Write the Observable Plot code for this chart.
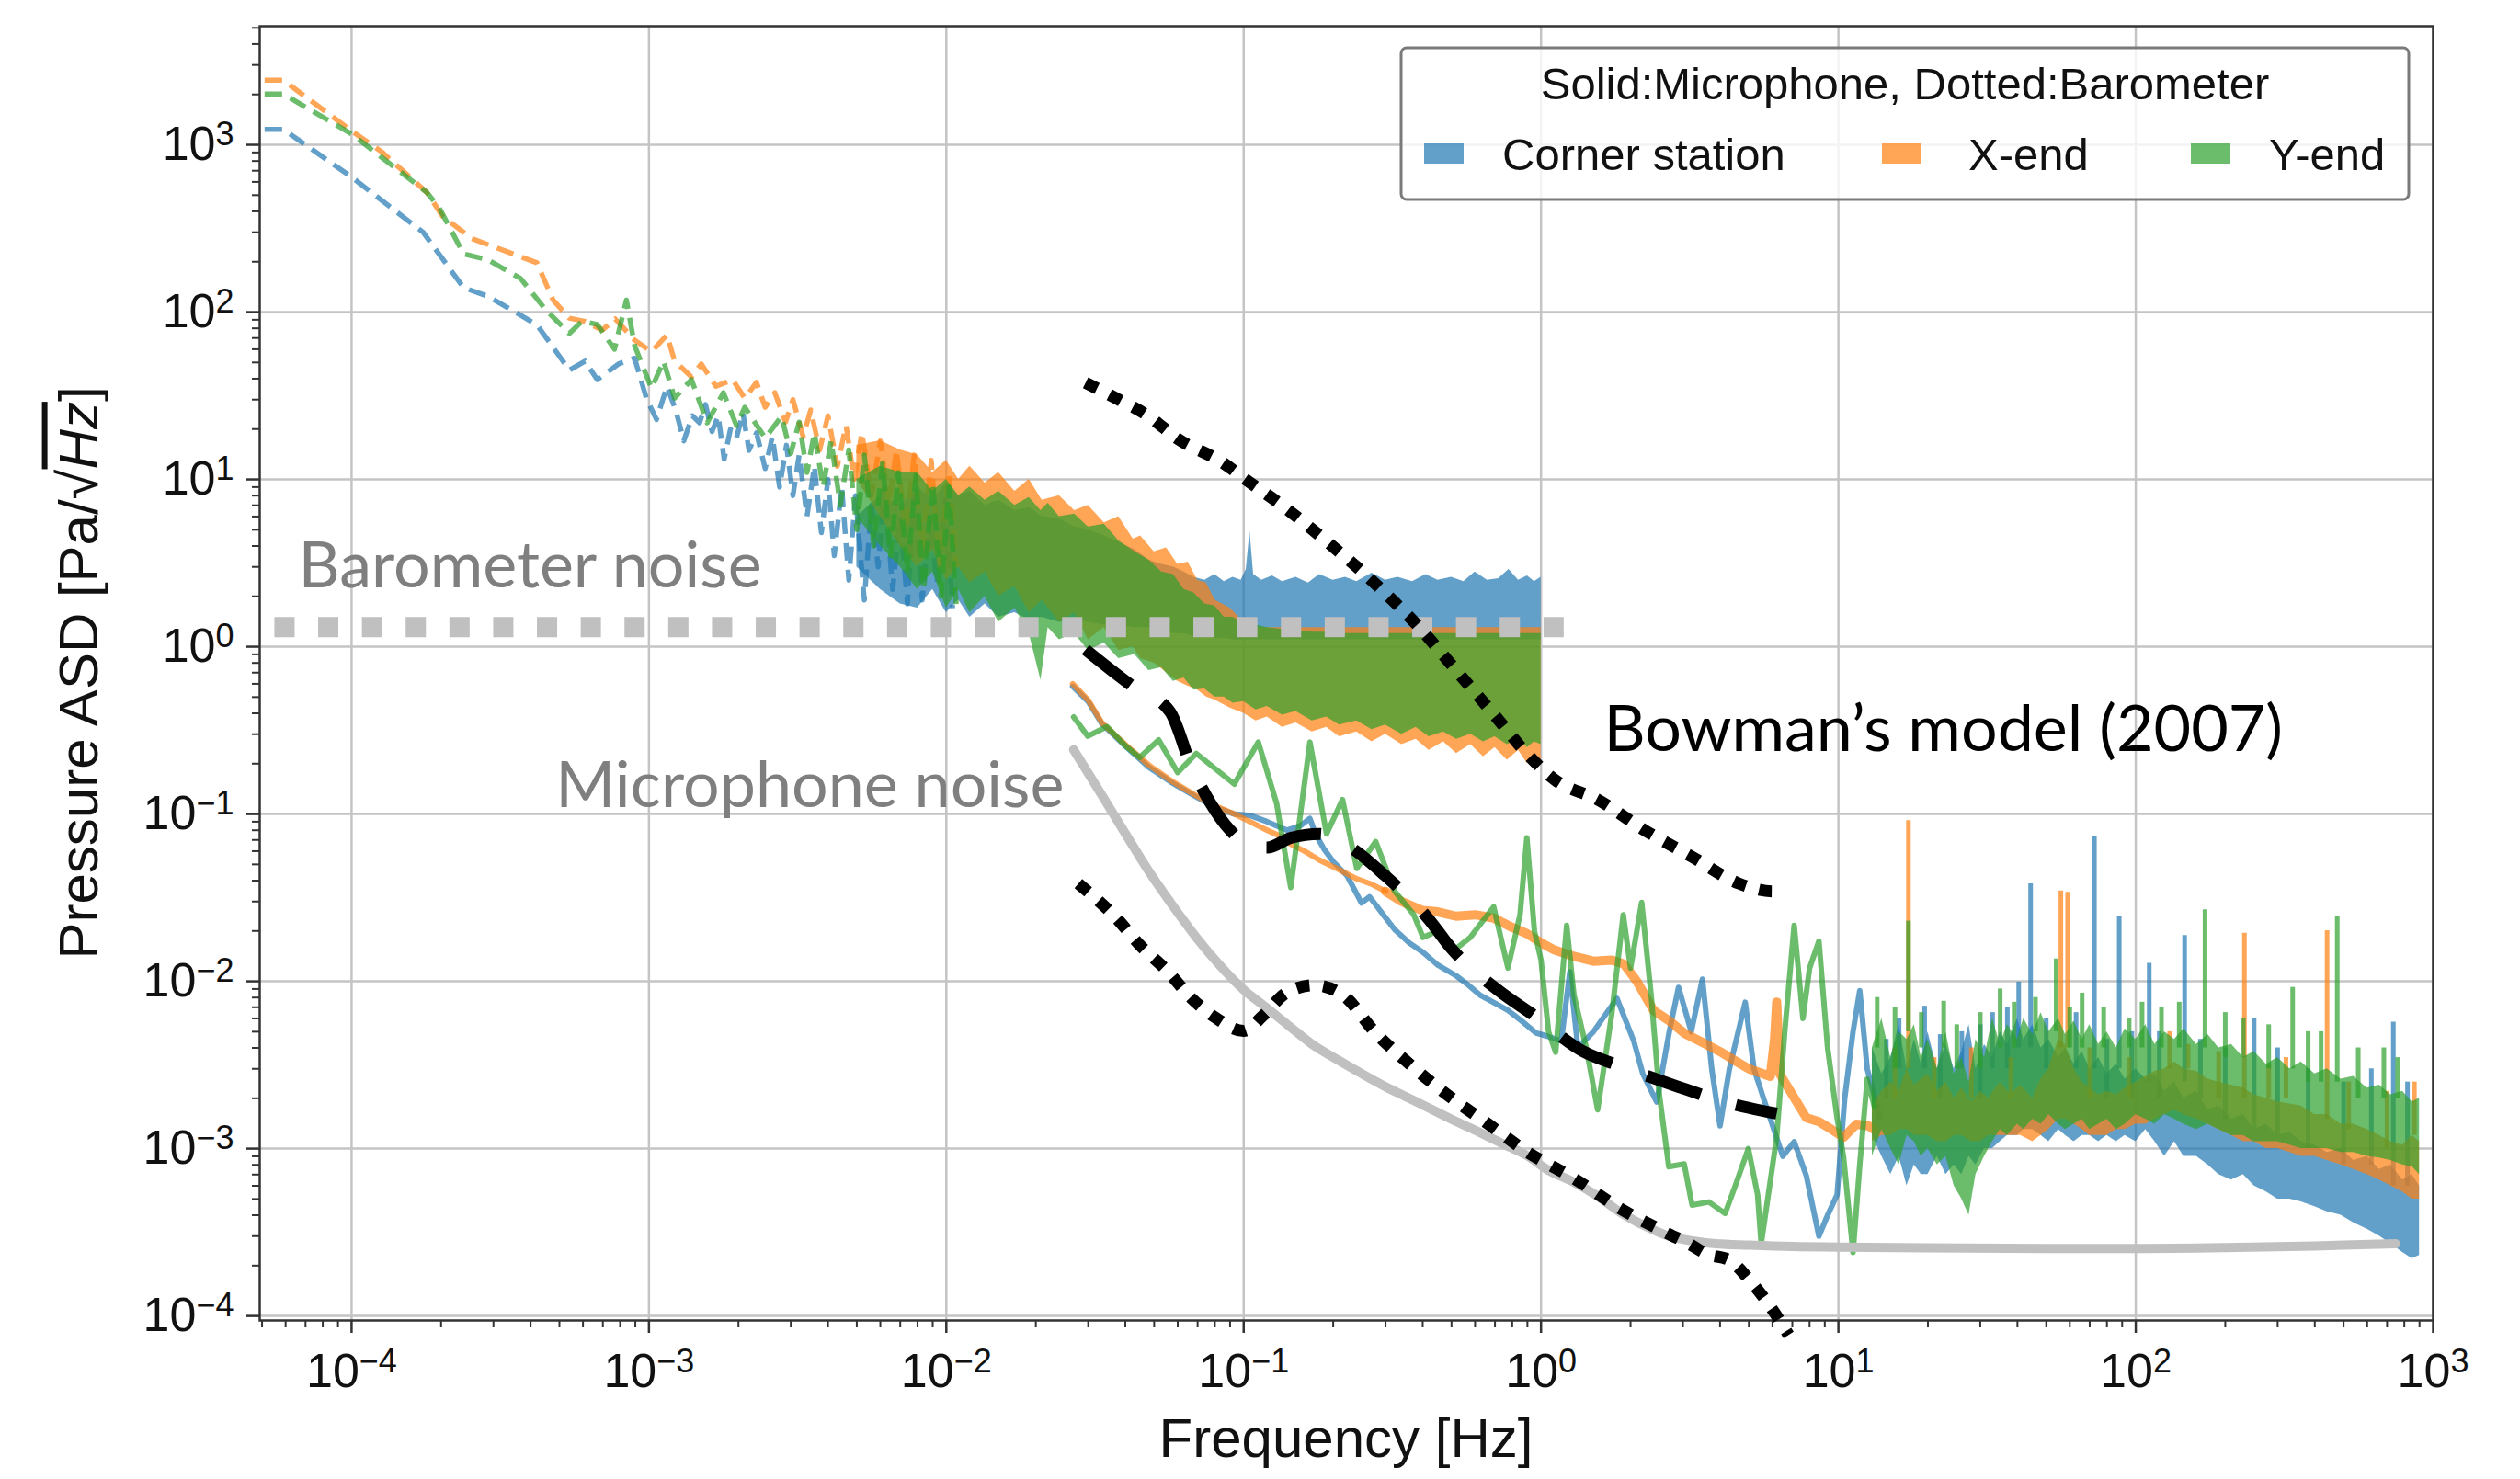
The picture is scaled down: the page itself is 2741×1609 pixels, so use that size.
<!DOCTYPE html>
<html><head><meta charset="utf-8">
<script src="https://cdn.jsdelivr.net/npm/d3@7"></script>
<script src="https://cdn.jsdelivr.net/npm/@observablehq/plot@0.6"></script>
<style>
html,body{margin:0;padding:0;background:#fff;}
#chart{position:relative;width:2741px;height:1609px;}
</style></head><body><div id="chart"></div>
<script>
// ---------- tick values ----------
const xMajor = [1e-4, 1e-3, 1e-2, 1e-1, 1, 10, 100, 1000];
const yMajor = [1e-4, 1e-3, 1e-2, 1e-1, 1, 10, 100, 1000];
const seriesNames = ["Corner station", "X-end", "Y-end"];
const legendTitle = "Solid:Microphone, Dotted:Barometer";

// ---------- barometer (dashed) [f, ASD] ----------
const baroCorner = [[5.1e-5,1235],[5.9e-5,1235],[1.0e-4,641],[1.74e-4,300],[2.38e-4,140],[2.88e-4,124],[4.2e-4,84],[5.4e-4,45],[6.1e-4,51],[6.7e-4,39.5],[7.9e-4,49],[8.95e-4,53],[9.8e-4,30.6],[1.06e-3,22.8],[1.15e-3,36],[1.23e-3,26],[1.31e-3,17],[1.4e-3,24],[1.48e-3,21.8],[1.55e-3,28],[1.63e-3,19.3],[1.71e-3,24],[1.79e-3,13.2],[1.88e-3,20],[1.97e-3,17.7],[2.07e-3,25],[2.17e-3,14.9],[2.3e-3,19],[2.46e-3,11.6],[2.6e-3,18],[2.75e-3,9],[2.9e-3,16],[3.05e-3,8],[3.2e-3,14],[3.4e-3,6],[3.6e-3,12],[3.8e-3,4.8],[4.0e-3,10],[4.2e-3,3.5],[4.45e-3,9],[4.7e-3,2.5],[4.95e-3,8],[5.3e-3,1.9],[5.6e-3,7],[5.9e-3,3],[6.2e-3,9],[6.6e-3,2.2],[7.0e-3,6],[7.4e-3,1.8],[7.8e-3,8],[8.3e-3,1.9],[8.8e-3,6],[9.3e-3,2.4],[9.9e-3,7.5],[1.05e-2,1.7]];
const baroXend = [[5.1e-5,2430],[5.9e-5,2430],[1.0e-4,1210],[1.27e-4,900],[1.79e-4,520],[2.03e-4,371],[2.54e-4,275],[3.26e-4,233],[4.2e-4,197],[4.76e-4,118],[5.4e-4,92],[6.1e-4,88],[6.96e-4,78],[7.7e-4,91],[8.95e-4,68],[1.02e-3,58],[1.15e-3,73],[1.22e-3,51],[1.39e-3,41],[1.5e-3,49],[1.68e-3,36],[1.91e-3,39.5],[2.1e-3,30.6],[2.3e-3,38],[2.46e-3,27],[2.65e-3,33],[2.88e-3,22],[3.05e-3,30],[3.3e-3,18],[3.5e-3,26],[3.75e-3,15],[4.0e-3,24],[4.3e-3,12],[4.6e-3,21],[4.9e-3,10],[5.2e-3,19],[5.6e-3,8],[6.0e-3,17],[6.4e-3,7],[6.8e-3,15],[7.3e-3,5],[7.8e-3,14],[8.3e-3,4],[8.9e-3,13],[9.5e-3,3],[1.02e-2,11],[1.08e-2,3]];
const baroYend = [[5.1e-5,2010],[5.9e-5,2010],[1.0e-4,1160],[1.79e-4,520],[1.97e-4,421],[2.38e-4,223],[2.88e-4,205],[3.7e-4,159],[4.48e-4,104],[5.4e-4,74.5],[5.95e-4,88],[6.7e-4,84.5],[7.66e-4,60],[8.4e-4,118],[8.95e-4,63],[1.02e-3,35],[1.12e-3,51],[1.22e-3,30.6],[1.39e-3,39.5],[1.57e-3,21.8],[1.78e-3,33],[1.97e-3,21],[2.1e-3,27],[2.46e-3,17.7],[2.79e-3,23.8],[3.0e-3,14.3],[3.2e-3,22],[3.4e-3,11],[3.6e-3,19],[3.85e-3,9],[4.1e-3,17],[4.4e-3,7],[4.7e-3,15],[5.0e-3,5],[5.3e-3,14],[5.7e-3,4],[6.1e-3,12.5],[6.5e-3,3.5],[6.9e-3,11],[7.4e-3,2.8],[7.9e-3,10.5],[8.4e-3,2.2],[9.0e-3,9.5],[9.6e-3,2],[1.02e-2,9],[1.08e-2,1.8]];

// dense barometer region as envelopes [f, low, high]
const baroCornerBand = [[5e-3,3,6],[6e-3,2.2,8],[7e-3,1.8,7],[8e-3,1.7,9],[9e-3,2.2,7.5],[0.01,1.6,9.5],[0.011,1.9,8],[0.012,1.5,8.5],[0.0135,1.8,7],[0.015,1.5,7.5],[0.017,1.6,6.5],[0.019,1.45,6.8],[0.021,1.5,6],[0.024,1.4,5.8],[0.027,1.45,5.2],[0.03,1.4,5],[0.034,1.35,4.6],[0.038,1.35,4.2],[0.043,1.3,3.8],[0.048,1.3,3.3],[0.053,1.25,3.1],[0.058,1.2,3.0],[0.063,1.2,2.8],[0.068,1.15,2.6],[0.074,1.15,2.5],[0.08,1.12,2.7],[0.086,1.12,2.45],[0.092,1.1,2.6],[0.098,1.1,2.5],[0.102,1.1,2.9],[0.105,1.1,4.9],[0.108,1.1,2.7],[0.115,1.1,2.5],[0.125,1.1,2.65],[0.135,1.1,2.45],[0.15,1.1,2.6],[0.165,1.1,2.4],[0.18,1.1,2.7],[0.2,1.1,2.5],[0.22,1.1,2.6],[0.24,1.1,2.45],[0.27,1.1,2.75],[0.3,1.1,2.5],[0.33,1.1,2.6],[0.37,1.1,2.45],[0.41,1.1,2.7],[0.45,1.1,2.5],[0.5,1.1,2.6],[0.55,1.1,2.45],[0.6,1.1,2.8],[0.66,1.1,2.5],[0.72,1.1,2.55],[0.78,1.1,2.9],[0.84,1.1,2.5],[0.9,1.1,2.65],[0.95,1.1,2.45],[1.0,1.1,2.6]];
const baroXendBand = [[5e-3,10,16],[6e-3,6,17],[7e-3,4,15],[8e-3,3,14],[9e-3,3.8,11],[0.01,2.5,13],[0.011,3,10],[0.012,2.4,12],[0.0135,2.8,9.5],[0.015,2,11],[0.017,2.3,8.5],[0.019,1.6,10],[0.021,1.9,7.5],[0.024,1.4,8],[0.027,1.6,6.5],[0.03,1.1,7],[0.034,1.3,5.5],[0.038,0.95,6],[0.0425,1.0,4.4],[0.045,0.85,4.6],[0.05,0.8,3.7],[0.055,0.7,3.9],[0.06,0.62,3.1],[0.065,0.58,3.2],[0.07,0.55,2.5],[0.075,0.5,2.4],[0.08,0.48,1.9],[0.09,0.43,1.7],[0.1,0.4,1.4],[0.11,0.36,1.3],[0.12,0.38,1.3],[0.135,0.33,1.3],[0.15,0.35,1.3],[0.17,0.31,1.3],[0.19,0.33,1.3],[0.21,0.29,1.3],[0.24,0.31,1.3],[0.27,0.27,1.3],[0.3,0.3,1.3],[0.34,0.26,1.3],[0.38,0.28,1.3],[0.42,0.24,1.3],[0.47,0.27,1.3],[0.52,0.23,1.3],[0.58,0.26,1.3],[0.64,0.22,1.3],[0.7,0.25,1.3],[0.77,0.21,1.3],[0.84,0.24,1.3],[0.9,0.2,1.3],[0.95,0.23,1.3],[1.0,0.21,1.3]];
const baroYendBand = [[5e-3,6,10],[6e-3,4,12],[7e-3,3,11],[8e-3,2.2,11],[9e-3,2.8,8.5],[0.01,1.7,10],[0.011,2.2,8],[0.012,1.6,9],[0.0135,2.0,7.5],[0.015,1.4,8.5],[0.017,1.7,7],[0.019,1.2,7.8],[0.0208,0.63,6.5],[0.022,1.3,7.2],[0.024,1.1,6],[0.027,1.2,6.2],[0.03,0.95,5.2],[0.034,1.05,5.4],[0.038,0.85,4.3],[0.043,0.9,3.7],[0.048,0.72,3.3],[0.053,0.75,2.8],[0.058,0.62,2.7],[0.063,0.65,2.2],[0.068,0.55,2.1],[0.074,0.56,1.8],[0.08,0.5,1.75],[0.086,0.5,1.5],[0.092,0.46,1.5],[0.1,0.47,1.38],[0.11,0.42,1.35],[0.12,0.44,1.3],[0.135,0.39,1.27],[0.15,0.41,1.25],[0.17,0.36,1.22],[0.19,0.38,1.22],[0.21,0.34,1.2],[0.24,0.36,1.2],[0.27,0.32,1.2],[0.3,0.34,1.2],[0.34,0.3,1.2],[0.38,0.33,1.2],[0.42,0.29,1.2],[0.47,0.31,1.2],[0.52,0.28,1.2],[0.58,0.3,1.2],[0.64,0.27,1.2],[0.7,0.29,1.2],[0.77,0.26,1.2],[0.84,0.28,1.2],[0.9,0.25,1.2],[0.95,0.27,1.2],[1.0,0.26,1.2]];

// ---------- microphones (solid) [f, ASD] ----------
const micCorner = [[0.0266,0.58],[0.03,0.47],[0.0334,0.345],[0.04,0.255],[0.048,0.19],[0.058,0.152],[0.069,0.127],[0.08,0.11],[0.093,0.1],[0.105,0.098],[0.12,0.09],[0.14,0.08],[0.155,0.085],[0.167,0.094],[0.175,0.075],[0.186,0.062],[0.2,0.052],[0.223,0.0426],[0.249,0.0294],[0.265,0.032],[0.278,0.0287],[0.3,0.024],[0.322,0.0204],[0.36,0.017],[0.401,0.0149],[0.45,0.0125],[0.518,0.0108],[0.57,0.0095],[0.622,0.0083],[0.7,0.0074],[0.774,0.0067],[0.86,0.0058],[0.964,0.0049],[1.05,0.0047],[1.17,0.0044],[1.25,0.0114],[1.33,0.004],[1.5,0.005],[1.8,0.0079],[2.05,0.0044],[2.2,0.0028],[2.45,0.0019],[2.7,0.005],[2.9,0.0092],[3.2,0.005],[3.49,0.0103],[3.75,0.003],[4.0,0.00137],[4.3,0.003],[4.86,0.0075],[5.2,0.003],[5.6,0.002],[6.5,0.0009],[7.1,0.0011],[7.8,0.00069],[8.6,0.0003],[9.2,0.0004],[9.9,0.00053],[10.5,0.002],[11.2,0.005],[11.8,0.0088],[12.5,0.003],[13.8,0.00153]];
const micXend = [[0.0266,0.6],[0.03,0.48],[0.0334,0.35],[0.04,0.26],[0.048,0.196],[0.058,0.155],[0.069,0.129],[0.08,0.112],[0.093,0.1],[0.105,0.09],[0.12,0.08],[0.13,0.075],[0.144,0.066],[0.16,0.06],[0.18,0.053],[0.207,0.047],[0.24,0.041],[0.27,0.038],[0.3,0.0345],[0.34,0.03],[0.4,0.0265],[0.45,0.026],[0.518,0.0245],[0.6,0.025],[0.693,0.0239],[0.8,0.021],[0.896,0.0193],[1.0,0.017],[1.1,0.0155],[1.29,0.0141],[1.5,0.0132],[1.73,0.0134],[1.9,0.0127],[2.1,0.01],[2.39,0.0067],[2.7,0.0058],[3.03,0.0049],[3.5,0.0043],[4.0,0.0038],[4.43,0.0034],[5.0,0.003],[5.9,0.0027],[6.1,0.0045],[6.2,0.0075],[6.35,0.0028],[7.0,0.0021],[7.8,0.00153],[8.6,0.00145],[9.5,0.0013],[10.4,0.00117],[11.5,0.0014],[12.6,0.00137],[13.2,0.0013]];
const micYend = [[0.0268,0.38],[0.0299,0.292],[0.0347,0.333],[0.0401,0.255],[0.0447,0.218],[0.0518,0.277],[0.06,0.177],[0.0693,0.23],[0.0804,0.186],[0.093,0.151],[0.112,0.269],[0.129,0.116],[0.144,0.0364],[0.167,0.269],[0.19,0.076],[0.215,0.122],[0.24,0.0473],[0.278,0.0684],[0.322,0.0345],[0.373,0.0251],[0.401,0.0183],[0.45,0.02],[0.499,0.0149],[0.578,0.0183],[0.693,0.0279],[0.774,0.012],[0.85,0.025],[0.896,0.0721],[0.95,0.02],[1.0,0.0134],[1.06,0.005],[1.12,0.00377],[1.22,0.0216],[1.29,0.0083],[1.42,0.004],[1.55,0.00171],[1.73,0.0064],[1.89,0.025],[2.0,0.012],[2.18,0.0296],[2.35,0.008],[2.5,0.0021],[2.69,0.00078],[3.03,0.00081],[3.22,0.00046],[3.67,0.00048],[4.16,0.00041],[4.5,0.0006],[4.98,0.001],[5.35,0.00053],[5.5,0.00027],[6.2,0.00117],[6.6,0.005],[7.1,0.0216],[7.6,0.006],[8.0,0.012],[8.6,0.0174],[9.2,0.004],[9.9,0.00153],[10.4,0.0009],[11.2,0.00024],[11.8,0.0008],[12.5,0.0026],[13.2,0.0018]];

// dense microphone region as envelopes [f, low, high]
const micCornerBand = [[13,0.0012,0.004],[14,0.0009,0.0028],[15,0.0007,0.0035],[16,0.0009,0.0055],[17,0.0006,0.003],[18,0.0008,0.0045],[19,0.0007,0.0032],[20,0.0007,0.005],[21.5,0.0009,0.003],[23,0.0007,0.0042],[24.5,0.0008,0.003],[26,0.0007,0.0038],[27.5,0.0009,0.0055],[29,0.0008,0.003],[31,0.001,0.0042],[33,0.001,0.0035],[35,0.0011,0.005],[37,0.0012,0.0042],[40,0.0012,0.006],[42,0.0013,0.0045],[45,0.0013,0.0055],[48,0.0012,0.004],[51,0.0011,0.0045],[55,0.0013,0.0035],[58,0.0012,0.004],[62,0.0011,0.0032],[66,0.0012,0.0038],[70,0.0012,0.003],[75,0.0011,0.0035],[80,0.0012,0.0028],[86,0.0011,0.0032],[92,0.0012,0.0026],[100,0.0011,0.003],[108,0.0013,0.0026],[116,0.0011,0.0028],[125,0.0009,0.0022],[135,0.0011,0.0025],[145,0.0009,0.002],[160,0.0009,0.0022],[175,0.0008,0.0017],[190,0.0007,0.0018],[210,0.00065,0.0015],[230,0.0007,0.0016],[250,0.0006,0.0013],[275,0.00055,0.0014],[300,0.0005,0.0012],[330,0.0005,0.00125],[360,0.00048,0.0011],[400,0.00045,0.00105],[440,0.00042,0.00095],[490,0.0004,0.001],[540,0.00036,0.00085],[600,0.00033,0.0009],[660,0.0003,0.00075],[720,0.00027,0.0008],[790,0.00024,0.00065],[850,0.00022,0.0007],[900,0.00023,0.0006]];
const micXendBand = [[13,0.0011,0.0018],[14,0.0012,0.0022],[15,0.0012,0.0025],[16,0.0013,0.0022],[17,0.0013,0.003],[18,0.0012,0.0024],[20,0.0012,0.0028],[21.5,0.0011,0.0022],[23,0.0011,0.0025],[24.5,0.0012,0.002],[26,0.0012,0.0023],[28,0.0011,0.0019],[30,0.0011,0.0022],[32,0.0012,0.002],[35,0.0012,0.0025],[38,0.0012,0.0021],[41,0.0012,0.0024],[45,0.0011,0.002],[48,0.0012,0.0026],[51,0.0013,0.003],[55,0.0015,0.0045],[58,0.0015,0.0042],[62,0.0014,0.003],[66,0.0013,0.0025],[70,0.0012,0.0023],[75,0.0012,0.0021],[80,0.0012,0.0022],[86,0.0013,0.0021],[92,0.0013,0.0023],[100,0.0014,0.0025],[108,0.0014,0.0027],[116,0.0015,0.0029],[125,0.0016,0.003],[135,0.0017,0.0033],[145,0.0016,0.003],[160,0.0015,0.0029],[175,0.0014,0.0026],[190,0.0013,0.0025],[210,0.0012,0.0024],[230,0.0011,0.0023],[250,0.0011,0.0021],[275,0.001,0.002],[300,0.001,0.0019],[330,0.00095,0.00185],[360,0.0009,0.0018],[400,0.0009,0.0016],[440,0.00085,0.0016],[490,0.0008,0.0014],[540,0.00075,0.0014],[600,0.0007,0.0013],[660,0.00065,0.0012],[720,0.0006,0.0011],[790,0.00055,0.00105],[850,0.0005,0.0012],[900,0.0005,0.0011]];
const micYendBand = [[13,0.0009,0.004],[14,0.0013,0.006],[15,0.001,0.0035],[16,0.0008,0.005],[17,0.0012,0.0045],[18,0.0011,0.0055],[19,0.0009,0.0035],[20,0.001,0.0045],[21.5,0.0008,0.003],[23,0.0009,0.005],[24.5,0.0006,0.0028],[26,0.0005,0.0035],[27.5,0.0004,0.0025],[29,0.0007,0.0045],[31,0.0009,0.0035],[33,0.0011,0.006],[35,0.0013,0.0042],[37,0.0012,0.0055],[40,0.0014,0.0045],[42,0.0013,0.006],[45,0.0015,0.0048],[48,0.0014,0.0065],[51,0.0016,0.005],[55,0.0014,0.006],[58,0.0013,0.0048],[62,0.0014,0.0058],[66,0.0015,0.0045],[70,0.0013,0.0055],[75,0.0014,0.0042],[80,0.0015,0.005],[86,0.0013,0.004],[92,0.0014,0.0052],[100,0.0016,0.0045],[108,0.0015,0.0055],[116,0.0014,0.0042],[125,0.0016,0.005],[135,0.0015,0.0045],[145,0.0014,0.0052],[160,0.0013,0.0042],[175,0.0014,0.0048],[190,0.0013,0.004],[210,0.0012,0.0042],[230,0.0012,0.0035],[250,0.0011,0.0038],[275,0.0011,0.0032],[300,0.0011,0.0035],[330,0.00105,0.003],[360,0.001,0.0033],[400,0.001,0.0028],[440,0.001,0.003],[490,0.00095,0.0026],[540,0.00095,0.0027],[600,0.0009,0.0023],[660,0.00088,0.0024],[720,0.00085,0.0021],[790,0.0008,0.0022],[850,0.00078,0.0019],[900,0.0007,0.002]];

// narrow peaks [f, base, top]
const micCornerSpikes = [[14.5,0.002,0.0045],[16,0.003,0.006],[19.5,0.003,0.0071],[22,0.002,0.0048],[26,0.003,0.005],[30,0.002,0.0055],[33,0.003,0.0065],[37,0.003,0.007],[40.4,0.004,0.0099],[44.3,0.004,0.0383],[50,0.003,0.006],[63,0.003,0.0065],[72.6,0.003,0.073],[80,0.002,0.0045],[88,0.003,0.0244],[97,0.002,0.005],[111,0.0025,0.0128],[120,0.002,0.005],[146,0.0025,0.0188],[165,0.002,0.0045],[200,0.0015,0.004],[250,0.0013,0.006],[300,0.0012,0.004],[380,0.001,0.003],[500,0.0008,0.0025],[620,0.0008,0.003],[735,0.0006,0.0057],[820,0.0006,0.0025]];
const micXendSpikes = [[15.5,0.002,0.004],[17.2,0.003,0.0914],[21,0.002,0.0035],[28,0.002,0.004],[38,0.002,0.0035],[56,0.004,0.0347],[59,0.004,0.034],[70,0.002,0.004],[95,0.002,0.0035],[130,0.003,0.005],[150,0.003,0.0042],[190,0.002,0.0038],[232,0.002,0.0194],[280,0.002,0.0032],[320,0.002,0.0035],[440,0.0015,0.0201],[520,0.0013,0.0025],[700,0.001,0.0022],[865,0.0012,0.0025]];
const micYendSpikes = [[13.5,0.004,0.008],[15.5,0.003,0.007],[17.2,0.005,0.0229],[19,0.004,0.0065],[22.6,0.004,0.0076],[25,0.003,0.0055],[30,0.003,0.0065],[35,0.004,0.009],[39,0.004,0.0075],[46,0.005,0.008],[54,0.005,0.0136],[60,0.004,0.007],[66,0.004,0.0085],[78,0.004,0.007],[95,0.004,0.006],[105,0.004,0.0075],[122,0.004,0.007],[140,0.004,0.0075],[171,0.004,0.0268],[200,0.0035,0.0065],[230,0.0035,0.006],[280,0.003,0.0055],[337,0.003,0.0092],[380,0.0025,0.005],[420,0.0025,0.005],[476,0.0025,0.0244],[560,0.002,0.004],[683,0.002,0.004],[760,0.002,0.0035]];

// ---------- reference curves ----------
const barometerNoise = [[5.5e-5,1.31],[1.3,1.31]];
const microphoneNoise = [[0.0268,0.242],[0.0334,0.129],[0.0401,0.076],[0.0482,0.0449],[0.058,0.028],[0.0693,0.0183],[0.083,0.0125],[0.1,0.0089],[0.12,0.0069],[0.144,0.00531],[0.17,0.0042],[0.207,0.0034],[0.25,0.0028],[0.299,0.00235],[0.36,0.002],[0.431,0.00171],[0.52,0.00145],[0.622,0.00125],[0.75,0.00106],[0.896,0.00091],[1.05,0.00075],[1.29,0.00063],[1.55,0.00052],[1.86,0.000413],[2.2,0.00035],[2.69,0.0003],[3.2,0.000282],[3.87,0.00027],[5,0.000265],[7,0.00026],[10,0.000258],[20,0.000255],[50,0.000253],[100,0.000253],[200,0.000256],[400,0.000262],[748,0.00027]];
const bowmanUpper = [[0.0294,37.8],[0.038,30],[0.048,23.8],[0.06,17.5],[0.085,12.6],[0.1,10.2],[0.139,6.7],[0.192,4.2],[0.24,3.0],[0.288,2.23],[0.384,1.34],[0.532,0.684],[0.708,0.378],[0.895,0.23],[1.12,0.159],[1.55,0.122],[2.23,0.08],[3.22,0.0555],[4.64,0.0384],[6.0,0.0345],[6.6,0.0355]];
const bowmanMiddle = [[0.0294,0.96],[0.0425,0.577],[0.0565,0.41],[0.0669,0.19],[0.0774,0.116],[0.09,0.08],[0.104,0.065],[0.12,0.063],[0.144,0.072],[0.18,0.076],[0.223,0.065],[0.3,0.0426],[0.416,0.0239],[0.5,0.0157],[0.72,0.0088],[0.93,0.0064],[1.39,0.0038],[1.86,0.0031],[2.88,0.00235],[4.16,0.0019],[6.2,0.00162]];
const bowmanLower = [[0.0278,0.0384],[0.0373,0.0239],[0.0447,0.0165],[0.0557,0.0114],[0.0669,0.00789],[0.0804,0.00606],[0.1,0.00505],[0.116,0.00622],[0.139,0.00853],[0.173,0.00948],[0.215,0.00832],[0.278,0.00491],[0.36,0.00322],[0.482,0.00211],[0.669,0.00139],[0.895,0.00096],[1.29,0.000664],[1.86,0.000435],[2.69,0.000309],[3.2,0.000265],[3.6,0.000235],[4.29,0.000216],[5.08,0.00016],[5.98,0.00011],[6.8,0.000077]];

// annotation anchors [f, ASD, text, colour]
const annotations = [
  [6.62e-5, 2.275, "Barometer noise", "#7f7f7f"],
  [4.85e-4, 0.1106, "Microphone noise", "#7f7f7f"],
  [1.627, 0.2393, "Bowman\u2019s model (2007)", "#000000"]
];

// ---------- rendering ----------
const colors = ["#1f77b4", "#ff7f0e", "#2ca02c"];
const A = 0.7;
const fx = d => d[0], fy = d => d[1];
const sansFont = "'Liberation Sans', Arial, Helvetica, sans-serif";
const noteFont = "Lato, 'Open Sans', sans-serif";

function minorTicks(lo, hi) {
  const out = [];
  for (let e = -6; e <= 4; e++) for (let m = 2; m <= 9; m++) {
    const v = m * Math.pow(10, e);
    if (v >= lo && v <= hi) out.push(v);
  }
  return out;
}
const xDomain = [4.91e-5, 1000], yDomain = [9.4e-5, 5115];
const powFmt = d => "10^" + Math.round(Math.log10(d));

const baroSets = [[baroCorner, baroCornerBand], [baroXend, baroXendBand], [baroYend, baroYendBand]];
const micSets = [[micCorner, micCornerBand, micCornerSpikes], [micXend, micXendBand, micXendSpikes], [micYend, micYendBand, micYendSpikes]];

const marks = [
  Plot.gridX({ticks: xMajor, stroke: "#c4c4c4", strokeOpacity: 1, strokeWidth: 2.5}),
  Plot.gridY({ticks: yMajor, stroke: "#c4c4c4", strokeOpacity: 1, strokeWidth: 2.5})
];
baroSets.forEach(([line, band], i) => {
  marks.push(Plot.areaY(band, {x: fx, y1: d => d[1], y2: d => d[2], fill: colors[i], fillOpacity: A}));
  marks.push(Plot.line(line, {x: fx, y: fy, stroke: colors[i], strokeOpacity: A, strokeWidth: 5.5, strokeDasharray: "19,10", strokeLinecap: "butt"}));
});
micSets.forEach(([line, band, spikes], i) => {
  marks.push(Plot.areaY(band, {x: fx, y1: d => d[1], y2: d => d[2], fill: colors[i], fillOpacity: A}));
  marks.push(Plot.ruleX(spikes, {x: fx, y1: d => d[1], y2: d => d[2], stroke: colors[i], strokeOpacity: A, strokeWidth: 5}));
  if (i === 1) {
    marks.push(Plot.line(line, {filter: d => d[0] <= 0.3, x: fx, y: fy, stroke: colors[i], strokeOpacity: A, strokeWidth: 6}));
    marks.push(Plot.line(line, {filter: d => d[0] >= 0.3, x: fx, y: fy, stroke: colors[i], strokeOpacity: A, strokeWidth: 10}));
  } else {
    marks.push(Plot.line(line, {x: fx, y: fy, stroke: colors[i], strokeOpacity: A, strokeWidth: 6}));
  }
});
marks.push(
  Plot.line(microphoneNoise, {x: fx, y: fy, stroke: "#c0c0c0", strokeWidth: 10, curve: "monotone-x"}),
  Plot.line(barometerNoise, {x: fx, y: fy, stroke: "#c0c0c0", strokeWidth: 22, strokeDasharray: "22,25.6", strokeLinecap: "butt"}),
  Plot.frame({stroke: "#333", strokeWidth: 2.5}),
  Plot.axisX({ticks: xMajor, tickSize: 14, tickPadding: 22, tickFormat: powFmt, fontSize: 52, stroke: "#333", fill: "#111", strokeWidth: 2.5, label: null}),
  Plot.axisX({ticks: minorTicks(...xDomain), tickSize: 8, tickFormat: () => "", stroke: "#333", strokeWidth: 2, label: null}),
  Plot.axisY({ticks: yMajor, tickSize: 14, tickPadding: 14, tickFormat: powFmt, fontSize: 52, stroke: "#333", fill: "#111", strokeWidth: 2.5, label: null}),
  Plot.axisY({ticks: minorTicks(...yDomain), tickSize: 8, tickFormat: () => "", stroke: "#333", strokeWidth: 2, label: null}),
  Plot.line(bowmanUpper, {x: fx, y: fy, stroke: "#000", strokeWidth: 13, strokeDasharray: "14,15", strokeLinecap: "butt", curve: "monotone-x"}),
  Plot.line(bowmanMiddle, {x: fx, y: fy, stroke: "#000", strokeWidth: 13, strokeDasharray: "62,40", strokeLinecap: "butt", curve: "monotone-x"}),
  Plot.line(bowmanLower, {x: fx, y: fy, stroke: "#000", strokeWidth: 13, strokeDasharray: "14,15", strokeLinecap: "butt", curve: "monotone-x"}),
  Plot.text(annotations, {x: d => d[0], y: d => d[1], text: d => d[2], fill: d => d[3], textAnchor: "start", lineAnchor: "bottom", fontSize: 70, fontFamily: noteFont})
);

const chart = Plot.plot({
  width: 2741, height: 1609,
  marginLeft: 282, marginRight: 95, marginTop: 28, marginBottom: 173,
  x: {type: "log", domain: xDomain},
  y: {type: "log", domain: yDomain},
  style: {fontFamily: sansFont, fontSize: "46px", background: "#fff", overflow: "visible"},
  marks
});
document.getElementById("chart").appendChild(chart);
const svg = chart.tagName.toLowerCase() === "svg" ? chart : chart.querySelector("svg");

// superscript tick labels
svg.querySelectorAll('g[aria-label="x-axis tick label"] text, g[aria-label="y-axis tick label"] text').forEach(t => {
  const s = t.textContent;
  if (!s || s.indexOf("^") < 0) return;
  const [base, exp] = s.split("^");
  while (t.firstChild) t.removeChild(t.firstChild);
  const ns = "http://www.w3.org/2000/svg";
  const a = document.createElementNS(ns, "tspan"); a.textContent = base; t.appendChild(a);
  const b = document.createElementNS(ns, "tspan"); b.textContent = exp.replace("-", "\u2212");
  b.setAttribute("dy", "-0.45em"); b.setAttribute("font-size", "36"); t.appendChild(b);
});

const S = d3.select(svg);
// axis labels
S.append("text").attr("x", 1464).attr("y", 1585).attr("text-anchor", "middle")
  .attr("font-family", sansFont).attr("font-size", 60).attr("fill", "#111").text("Frequency [Hz]");
const yl = S.append("text").attr("transform", "translate(84,732) rotate(-90)").attr("dy", "0.36em")
  .attr("text-anchor", "middle").attr("font-family", sansFont).attr("font-size", 60).attr("fill", "#111");
yl.append("tspan").text("Pressure ASD [Pa/");
yl.append("tspan").text("\u221A");
yl.append("tspan").attr("font-style", "italic").style("text-decoration", "overline").text("Hz");
yl.append("tspan").text("]");

// legend
const lg = S.append("g");
lg.append("rect").attr("x", 1524).attr("y", 52).attr("width", 1096).attr("height", 165).attr("rx", 6)
  .attr("fill", "#fff").attr("fill-opacity", 0.8).attr("stroke", "#7a7a7a").attr("stroke-width", 3);
lg.append("text").attr("x", 2072).attr("y", 108).attr("text-anchor", "middle").attr("font-family", sansFont)
  .attr("font-size", 49).attr("fill", "#111").text(legendTitle);
const itemX = [[1549, 1634], [2047, 2141], [2383, 2468]];
seriesNames.forEach((n, i) => {
  lg.append("rect").attr("x", itemX[i][0]).attr("y", 156).attr("width", 43).attr("height", 22)
    .attr("fill", colors[i]).attr("fill-opacity", A);
  lg.append("text").attr("x", itemX[i][1]).attr("y", 185).attr("text-anchor", "start").attr("font-family", sansFont)
    .attr("font-size", 49).attr("fill", "#111").text(n);
});
</script></body></html>
